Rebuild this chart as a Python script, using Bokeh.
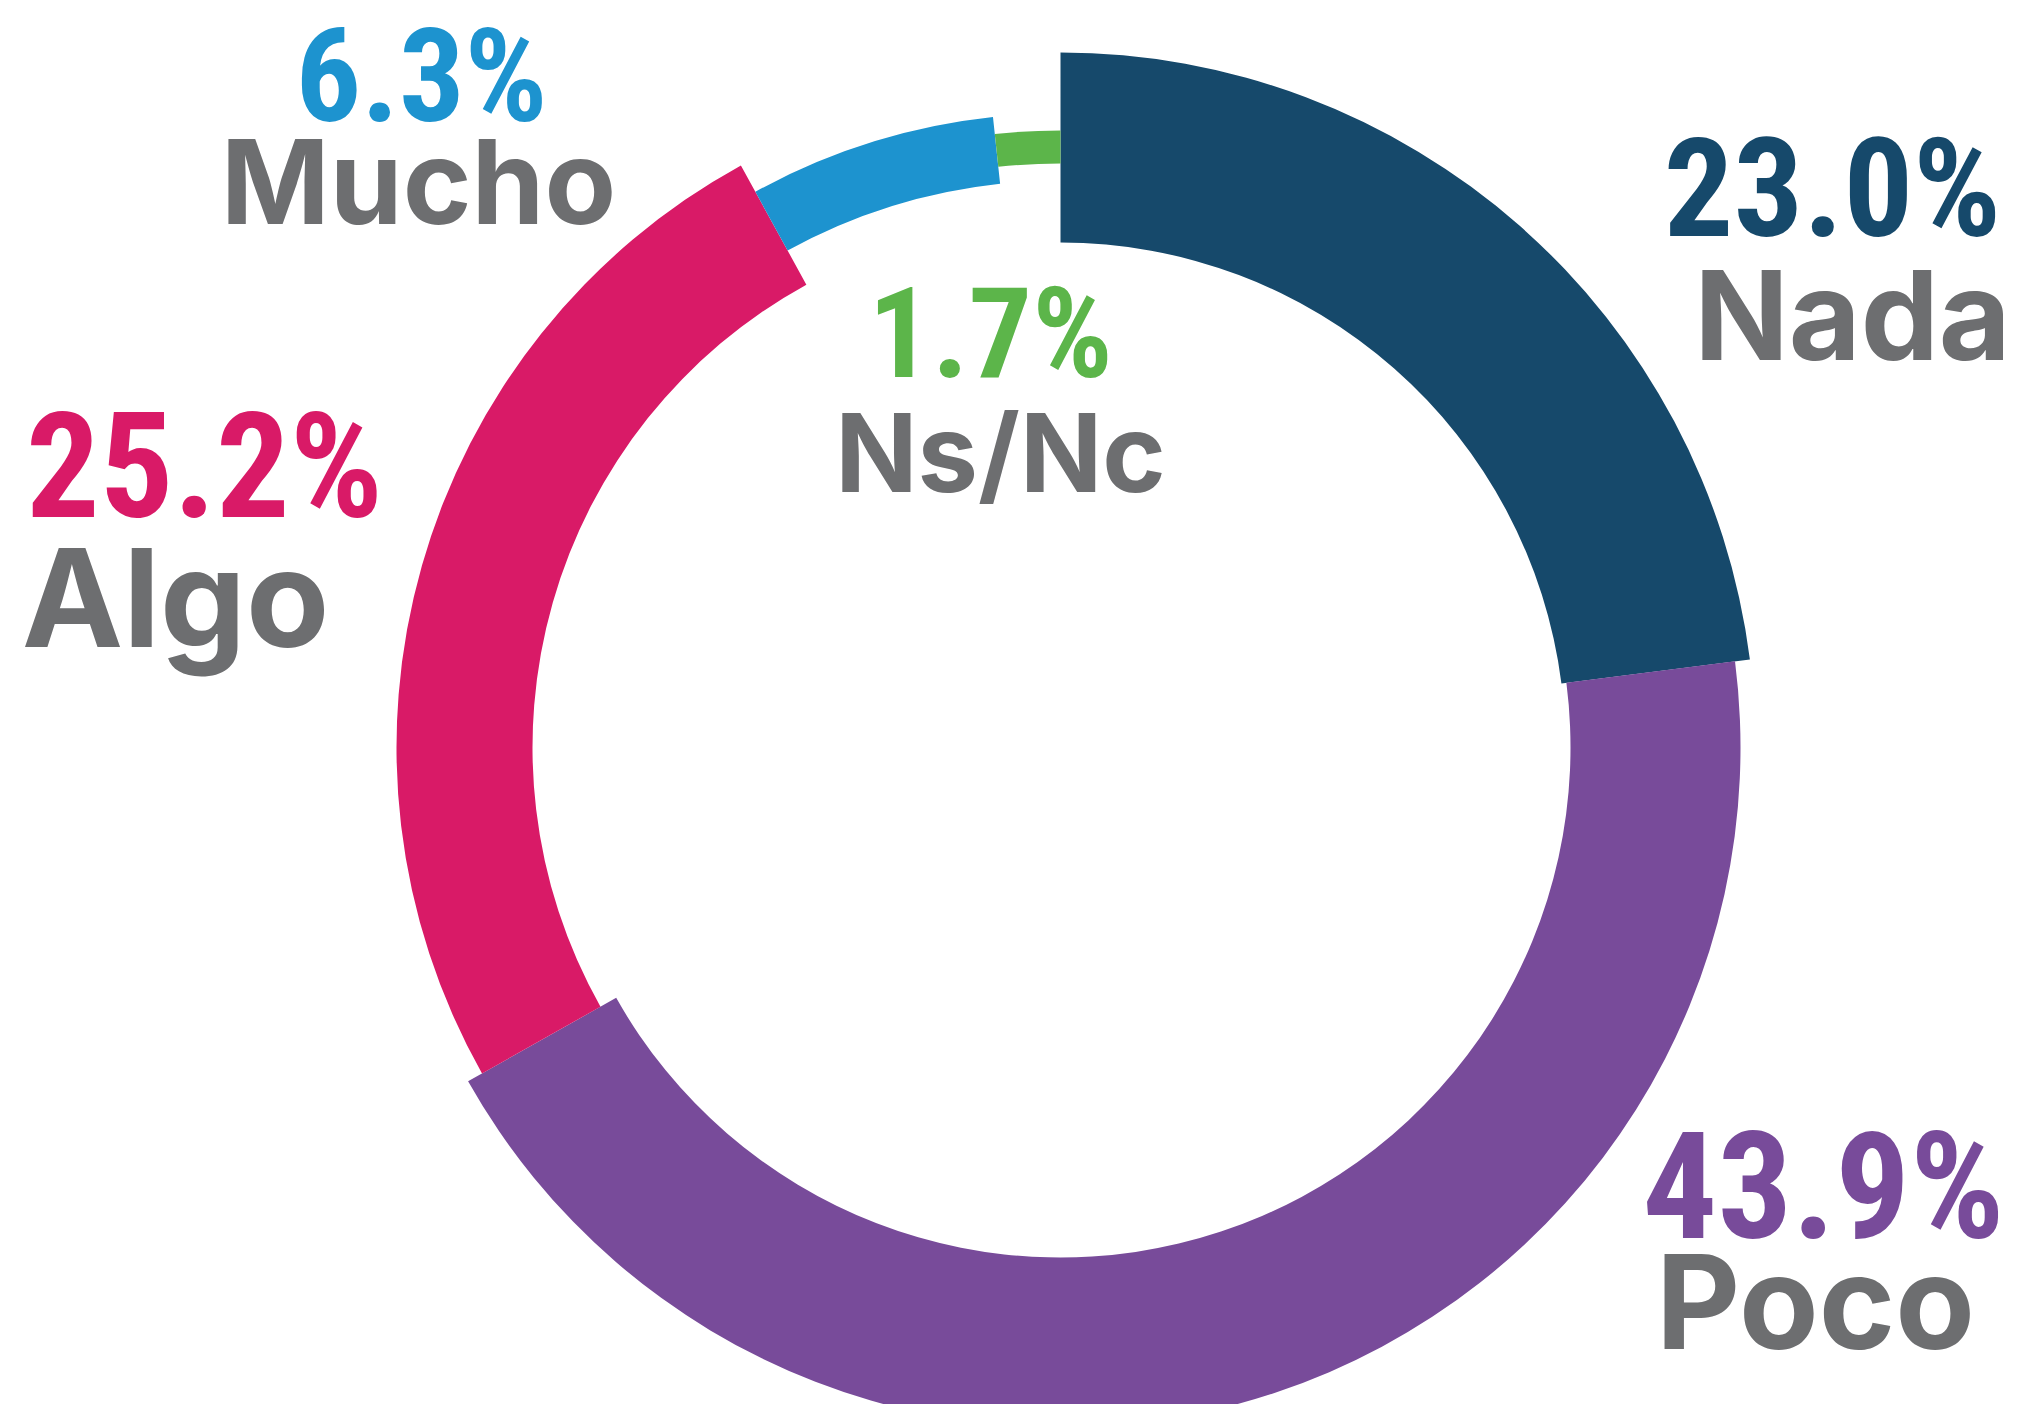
import math
from bokeh.plotting import figure
from bokeh.models import ColumnDataSource, Range1d
from bokeh.core.properties import value
from bokeh.embed import file_html
from bokeh.resources import INLINE

# ---- data ----
categories = ["Nada", "Poco", "Algo", "Mucho", "Ns/Nc"]
percent = [23.0, 43.9, 25.2, 6.3, 1.7]

# ---- styles ----
colors = ["#16496b", "#784b9a", "#d91a67", "#1d93cf", "#5cb54a"]
inner_r = [505, 510, 528, 567, 584]
outer_r = [695, 680, 664, 634, 617]
grey = "#6d6e70"

W, H = 2012, 1404
p = figure(width=W, height=H, output_backend="svg", toolbar_location=None,
           x_range=Range1d(0, W), y_range=Range1d(0, H), min_border=0)
p.axis.visible = False
p.grid.visible = False
p.outline_line_color = None
p.background_fill_color = "white"

def sy(y):  # screen y -> data y
    return H - y

cx, cy = 1060, sy(747)
total = sum(percent)
starts, ends = [], []
acc = 0.0
for v in percent:
    t1 = acc / total * 2 * math.pi
    acc += v
    t2 = acc / total * 2 * math.pi
    starts.append(math.pi / 2 - t2)
    ends.append(math.pi / 2 - t1)

src = ColumnDataSource(dict(x=[cx] * len(categories), y=[cy] * len(categories),
                            ir=inner_r, orr=outer_r, s=starts, e=ends, c=colors))
p.annular_wedge(x="x", y="y", inner_radius="ir", outer_radius="orr",
                start_angle="s", end_angle="e", fill_color="c", line_color=None, source=src)

BASE_SHIFT = 0.355  # em offset of the rendered baseline

# label anchors (screen coords, baselines)
pct_x = [1832, 1823, 204, 421, 990]
pct_y = [237, 1240, 519, 122, 378]
pct_fs = [138, 148, 146, 130, 126]
name_x = [1852, 1815, 175, 418, 1000]
name_y = [359, 1347, 645, 223, 490]
name_fs = [124, 130, 136, 117, 108]

lab = ColumnDataSource(dict(x=pct_x, y=[sy(b - BASE_SHIFT * f) for b, f in zip(pct_y, pct_fs)],
                            t=[f"{v:.1f}%" for v in percent], c=colors,
                            fs=[f"{f}px" for f in pct_fs]))
p.text(x="x", y="y", text="t", text_color="c", text_font_size="fs",
       text_font=value("Roboto Condensed"),
       text_font_style="bold", text_align="center", text_baseline="alphabetic", source=lab)

nlab = ColumnDataSource(dict(x=name_x, y=[sy(b - BASE_SHIFT * f) for b, f in zip(name_y, name_fs)],
                             t=categories, fs=[f"{f}px" for f in name_fs]))
p.text(x="x", y="y", text="t", text_color=grey, text_font_size="fs",
       text_font=value("Inter"), text_font_style="bold",
       text_align="center", text_baseline="alphabetic", source=nlab)

open("out.html", "w").write(file_html(p, INLINE))
